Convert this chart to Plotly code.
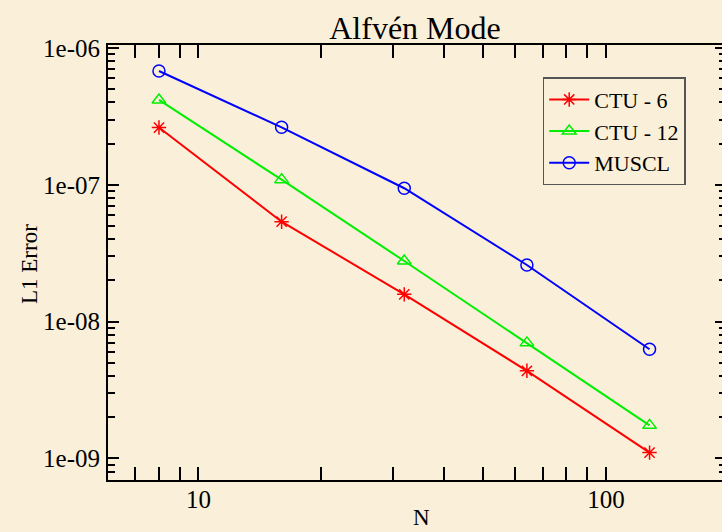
import plotly.graph_objects as go

N = [8, 16, 32, 64, 128]
ctu6 = [2.62e-7, 5.37e-8, 1.58e-8, 4.36e-9, 1.10e-9]
ctu12 = [4.17e-7, 1.09e-7, 2.77e-8, 6.98e-9, 1.74e-9]
muscl = [6.79e-7, 2.63e-7, 9.43e-8, 2.59e-8, 6.27e-9]

series_names = ["CTU - 6", "CTU - 12", "MUSCL"]
series_colors = ["#ff0000", "#00ee00", "#0000ff"]
series_symbols = ["asterisk-open", "triangle-up-open", "circle-open"]

y_tickvals = [1e-9, 1e-8, 1e-7, 1e-6]
y_ticktext = ["1e-09", "1e-08", "1e-07", "1e-06"]
x_tickvals = [10, 100]
x_ticktext = ["10", "100"]

x_minor = [m * 10 ** e for e in range(0, 3) for m in range(2, 10)]
y_minor = [m * 10.0 ** e for e in range(-10, -5) for m in range(2, 10)]

BG = "#faf0da"
FONT = "Liberation Serif"

fig = go.Figure()
for name, vals, col, sym in zip(series_names, [ctu6, ctu12, muscl], series_colors, series_symbols):
    fig.add_trace(go.Scatter(
        x=N, y=vals, name=name, mode="lines+markers",
        line=dict(color=col, width=2),
        marker=dict(symbol=sym, size=12, color=col, line=dict(color=col, width=1.5)),
    ))

# invisible trace so the right-side tick axis is drawn
fig.add_trace(go.Scatter(x=[N[0]], y=[muscl[0]], yaxis="y2", mode="markers",
                         marker=dict(opacity=0), showlegend=False, hoverinfo="skip"))

x_range = [0.778, 2.285]
y_range = [-9.159, -5.978]

fig.update_layout(
    width=722, height=532,
    margin=dict(l=108, r=0, t=45, b=52),
    paper_bgcolor=BG, plot_bgcolor=BG,
    font=dict(family=FONT, size=24, color="black"),
    title=dict(text="Alfvén Mode", x=0.5, xref="paper", xanchor="center",
               y=1, yref="paper", yanchor="bottom", pad=dict(b=6),
               font=dict(family=FONT, size=32, color="black")),
    showlegend=True,
    legend=dict(x=0.708, y=0.926, xanchor="left", yanchor="top",
                bgcolor=BG, bordercolor="#555555", borderwidth=1.5,
                font=dict(family=FONT, size=22, color="black"),
                itemwidth=40, tracegroupgap=0),
    xaxis=dict(type="log", range=x_range, showgrid=False, zeroline=False,
               showline=True, linecolor="black", linewidth=2, mirror="allticks",
               ticks="inside", ticklen=13, tickwidth=2, tickcolor="black",
               tickmode="array", tickvals=x_tickvals, ticktext=x_ticktext,
               tickfont=dict(family=FONT, size=25), ticklabelstandoff=-4,
               minor=dict(ticks="inside", ticklen=7, tickwidth=2, tickcolor="black",
                          tickmode="array", tickvals=x_minor, showgrid=False)),
    yaxis=dict(type="log", range=y_range, showgrid=False, zeroline=False,
               showline=True, linecolor="black", linewidth=2,
               ticks="inside", ticklen=11, tickwidth=2, tickcolor="black",
               tickmode="array", tickvals=y_tickvals, ticktext=y_ticktext,
               tickfont=dict(family=FONT, size=25), ticklabelstandoff=1,
               minor=dict(ticks="inside", ticklen=7, tickwidth=2, tickcolor="black",
                          tickmode="array", tickvals=y_minor, showgrid=False)),
    yaxis2=dict(type="log", range=y_range, overlaying="y", side="right",
                showgrid=False, zeroline=False, showline=False, showticklabels=False,
                ticks="inside", ticklen=7, tickwidth=2, tickcolor="black",
                tickmode="array", tickvals=y_tickvals,
                minor=dict(ticks="inside", ticklen=3, tickwidth=2, tickcolor="black",
                           tickmode="array", tickvals=y_minor, showgrid=False)),
)

# axis titles placed via pixel-based paper coordinates
pw, ph = 722 - 108, 532 - 45 - 52
fig.layout.annotations = [
    dict(text="L1 Error", x=(29 - 108) / pw, y=(480 - 264) / ph, xref="paper", yref="paper",
         xanchor="center", yanchor="middle", showarrow=False, textangle=-90,
         font=dict(family=FONT, size=23)),
    dict(text="N", x=(421 - 108) / pw, y=(480 - 517) / ph, xref="paper", yref="paper",
         xanchor="center", yanchor="middle", showarrow=False,
         font=dict(family=FONT, size=23)),
]

fig.write_html("out.html")
